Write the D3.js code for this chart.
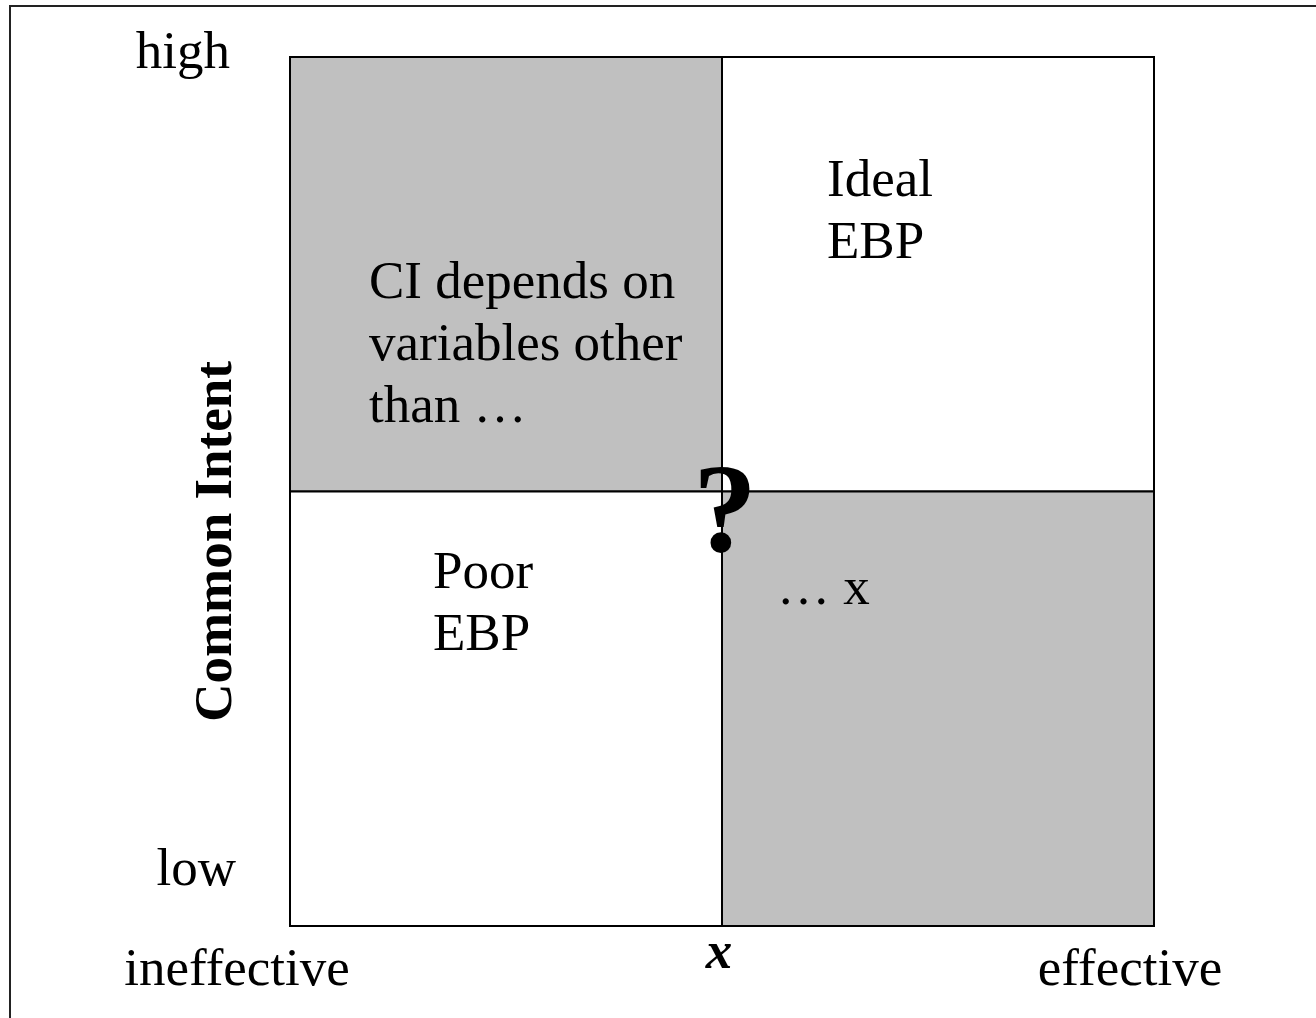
<!DOCTYPE html>
<html>
<head>
<meta charset="utf-8">
<script src="https://cdn.jsdelivr.net/npm/d3@7"></script>
<style>
  body { margin: 0; background: #fff; }
  svg text { font-family: "Liberation Serif", "Times New Roman", serif; fill: #000; }
</style>
</head>
<body>
<svg id="chart" width="1316" height="1018"></svg>
<script>
"use strict";
// quadrant grid: col 0 = ineffective side, row 1 = high side
const quadrants = [
  { col: 0, row: 1, shaded: true },
  { col: 1, row: 1, shaded: false },
  { col: 0, row: 0, shaded: false },
  { col: 1, row: 0, shaded: true }
];
const quadrantLabels = [
  { col: 0, row: 1, lines: ["CI depends on", "variables other", "than \u2026"] },
  { col: 1, row: 1, lines: ["Ideal", "EBP"] },
  { col: 0, row: 0, lines: ["Poor", "EBP"] },
  { col: 1, row: 0, lines: ["\u2026 x"] }
];
const xTickLabels = ["ineffective", "x", "effective"];
const yTickLabels = ["low", "high"];
const yAxisTitle = "Common Intent";
const centerMark = "?";

const svg = d3.select("#chart");
const margin = { top: 57, right: 162, bottom: 92, left: 290 };
const W = +svg.attr("width"), H = +svg.attr("height");

const x = d3.scaleLinear().domain([0, 2]).range([margin.left, W - margin.right]);
const y = d3.scaleLinear().domain([0, 2]).range([H - margin.bottom, margin.top]);

// outer frame (right / bottom edges run off the page)
svg.append("rect")
  .attr("x", 10).attr("y", 6)
  .attr("width", W + 20).attr("height", H + 20)
  .style("fill", "none").style("stroke", "#222").style("stroke-width", 2);

// quadrants
svg.append("g").selectAll("rect")
  .data(quadrants)
  .enter().append("rect")
  .attr("x", d => x(d.col))
  .attr("y", d => y(d.row + 1))
  .attr("width", d => x(d.col + 1) - x(d.col))
  .attr("height", d => y(d.row) - y(d.row + 1))
  .style("fill", d => d.shaded ? "#c0c0c0" : "#fff")
  .style("stroke", "#000")
  .style("stroke-width", 2);

// quadrant texts - offsets from each cell's top-left
const labelOffset = {
  "0,1": [79, 241], "1,1": [105, 139], "0,0": [143, 96], "1,0": [55, 112]
};
const lineGap = 62;
const lg = svg.append("g");
quadrantLabels.forEach(q => {
  let off = labelOffset[q.col + "," + q.row];
  let t = lg.append("text")
    .attr("x", x(q.col) + off[0])
    .attr("y", y(q.row + 1) + off[1])
    .style("font-size", "53px");
  q.lines.forEach((line, i) => {
    t.append("tspan")
      .attr("x", x(q.col) + off[0])
      .attr("dy", i === 0 ? 0 : lineGap)
      .text(line);
  });
});

// the ? in the middle
svg.append("text")
  .attr("x", x(1) + 3)
  .attr("y", y(1) + 59)
  .attr("text-anchor", "middle")
  .style("font-size", "128px")
  .style("font-weight", "bold")
  .text(centerMark);

// x labels
const xLab = svg.append("g");
xLab.append("text")
  .attr("x", x(0) - 53).attr("y", y(0) + 59)
  .attr("text-anchor", "middle")
  .style("font-size", "53px")
  .text(xTickLabels[0]);
xLab.append("text")
  .attr("x", x(1) - 3).attr("y", y(0) + 42)
  .attr("text-anchor", "middle")
  .style("font-size", "53px")
  .style("font-weight", "bold")
  .style("font-style", "italic")
  .text(xTickLabels[1]);
xLab.append("text")
  .attr("x", x(2) - 24).attr("y", y(0) + 59)
  .attr("text-anchor", "middle")
  .style("font-size", "53px")
  .text(xTickLabels[2]);

// y labels
svg.append("text")
  .attr("x", x(0) - 54).attr("y", y(0) - 41)
  .attr("text-anchor", "end")
  .style("font-size", "53px")
  .text(yTickLabels[0]);
svg.append("text")
  .attr("x", x(0) - 60).attr("y", y(2) + 11)
  .attr("text-anchor", "end")
  .style("font-size", "53px")
  .text(yTickLabels[1]);

// y title
svg.append("text")
  .attr("transform", `translate(${x(0) - 59},${y(1) + 50}) rotate(-90)`)
  .attr("text-anchor", "middle")
  .style("font-size", "53px")
  .style("font-weight", "bold")
  .text(yAxisTitle);
</script>
</body>
</html>
